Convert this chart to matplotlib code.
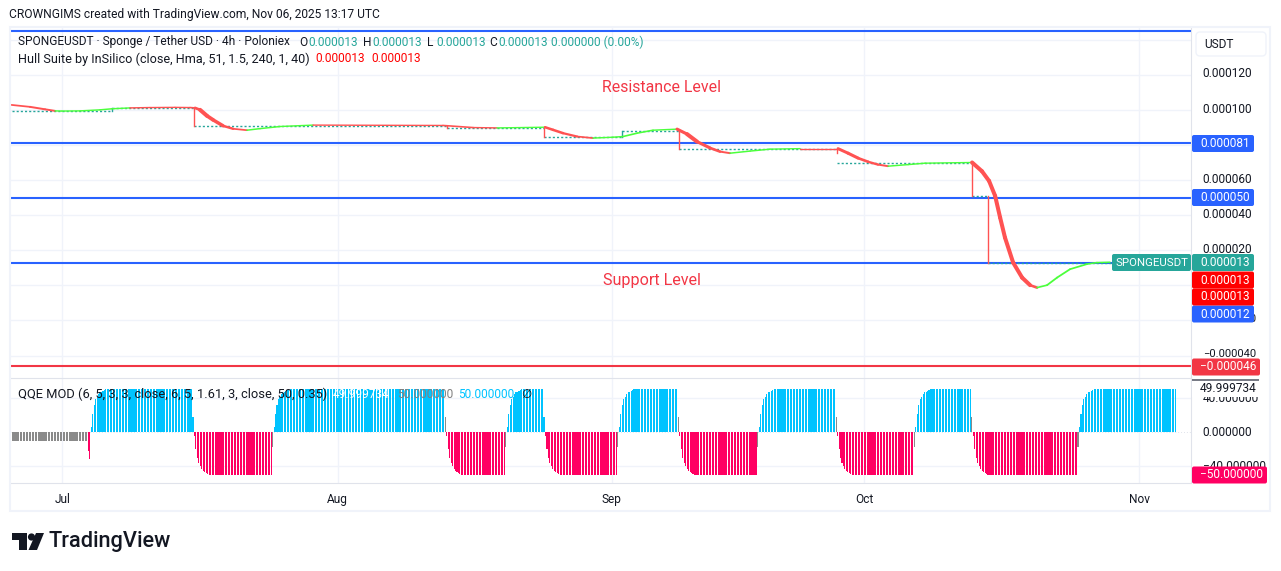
import numpy as np
import matplotlib
matplotlib.use("Agg")
import matplotlib.pyplot as plt
from matplotlib.collections import LineCollection
from matplotlib.patches import Circle, FancyBboxPatch, Polygon, Rectangle
from matplotlib.transforms import ScaledTranslation

# prices are in millionths of USDT, x axis is the 4h bar number
hull_bars = [-1, 11.5, 21.7, 28.5, 33.2, 45.4, 59, 67.1, 79.3, 92.9, 109.8, 120, 123.4, 126.8, 131.5, 135.6,
             142.4, 149.2, 158.6, 167.5, 181, 203.4, 291.5, 311.9, 328.1, 360.7, 366.1, 372.9, 382.4, 393.2,
             406.8, 413.6, 423.1, 433.9, 450.2, 456.9, 463.7, 472.5, 479.3, 486.1, 499.7, 513.2, 533.6, 559.3,
             566.1, 572.9, 579.7, 586.4, 593.2, 606.8, 618.3, 650.2, 656.9, 661.7, 665.8, 669.2, 672.5, 678,
             684.1, 689.5, 694.2, 701, 707.8, 716.6, 728.1, 734.9, 743.7]
hull_values = [102.8, 101.7, 100.3, 99.4, 99.3, 99.4, 100.0, 100.6, 101.1, 101.3, 101.4, 101.3, 101.1, 100.0, 96.6,
               94.3, 90.9, 89.2, 88.4, 89.3, 90.5, 91.3, 91.1, 89.9, 89.7, 90.1, 88.6, 86.7, 84.8, 83.9,
               84.4, 84.8, 86.7, 88.4, 89.0, 86.2, 81.9, 78.3, 76.2, 75.3, 76.5, 77.6, 77.9, 77.9,
               75.3, 72.5, 70.4, 68.8, 67.9, 68.8, 69.6, 70.0, 65.0, 59.5, 51.0, 38.6, 27.2, 13.0,
               4.4, 0.1, -1.3, 0.1, 4.4, 9.2, 12.1, 13.0, 13.2]
# the colour flips at these bars, starting red
hull_turns = [28.5, 79.3, 158.6, 203.4, 328.1, 360.7, 393.2, 450.2, 486.1, 533.6, 593.2, 650.2, 694.2]

step_edges = [-1, 67.1, 122.7, 294.2, 360, 412.9, 451.5, 558.6, 650.2, 661, 745]
step_levels = [99.4, 101.1, 90.6, 89.9, 84.8, 88.0, 77.6, 69.6, 50.8, 12.8]

blue_levels = [145, 81, 50, 12.8]
red_level = -46
price_ticks = [120, 100, 80, 60, 40, 20, 0, -20, -40]
grid_prices = [140, 120, 100, 80, 60, 40, 20, 0, -20, -40]

month_bars = [33.5, 220, 406, 577, 763.4]
month_labels = ["Jul", "Aug", "Sep", "Oct", "Nov"]

# QQE histogram pieces
qqe_start = [-10] * 51
qqe_first_dip = [-22, -31]
ramp_up = [6, 21, 31, 38, 41, 44, 46, 47, 48, 49, 49.5]
ramp_down = [-5, -20, -30, -36, -40, -43, -45, -46.5, -48, -49, -49.5]
plateau_counts = [58, 42, 105, 29, 14, 38, 29, 42, 41, 41, 27, 60, 55]
qqe_ticks = [40, 0, -40]

BLUE = "#2962ff"
TEAL = "#26a69a"
RED = "#f23645"
HULL_RED = "#ff5252"
HULL_GREEN = "#4cff3c"
QQE_BLUE = "#00c3ff"
QQE_PINK = "#ff0062"
QQE_GREY = "#8a8a8a"
GRID = "#f0f3fa"
LINE = "#e0e3eb"
INK = "#131722"

W, H = 1281, 571
plt.rcParams["font.family"] = ["Roboto", "DejaVu Sans"]
plt.rcParams["font.size"] = 8.6


def add_axes_px(fig, x0, y0, x1, y1):
    return fig.add_axes([x0 / W, 1 - y1 / H, (x1 - x0) / W, (y1 - y0) / H])


def price_text(v):
    return ("\u2212" if v < 0 else "") + "%.6f" % (abs(v) / 1e6)


def hull_colors():
    colors = []
    for b in hull_bars[:-1]:
        flips = sum(1 for t in hull_turns if b >= t)
        colors.append(HULL_GREEN if flips % 2 else HULL_RED)
    return colors


def qqe_series():
    values = list(qqe_start) + list(qqe_first_dip)
    colors = [QQE_GREY] * len(qqe_start) + [QQE_PINK] * len(qqe_first_dip)
    for k, n in enumerate(plateau_counts):
        if k % 2 == 0:
            values += ramp_up + [50] * n
            colors += [QQE_BLUE] * (len(ramp_up) + n)
            if k < len(plateau_counts) - 1:
                values.append(17)
                colors.append(QQE_BLUE if k in (0, 4) else QQE_GREY)
        else:
            values += ramp_down + [-50] * n
            colors += [QQE_PINK] * (len(ramp_down) + n)
            values.append(-17)
            colors.append(QQE_GREY)
    return values, colors


fig = plt.figure(figsize=(W / 100, H / 100), dpi=100, facecolor="white")
ax = add_axes_px(fig, 11, 27, 1191, 378)
ax_q = add_axes_px(fig, 11, 378, 1191, 483)
xlim = (-1.36, 798.6)

# main pane
ax.set_xlim(*xlim)
ax.set_ylim(-52.8, 147.2)
for p in grid_prices:
    ax.axhline(p, color=GRID, lw=1, zorder=0)
for b in month_bars:
    ax.axvline(b, color=GRID, lw=1, zorder=0)
for lev in blue_levels:
    ax.axhline(lev, color=BLUE, lw=1.5, zorder=2)
ax.axhline(red_level, color=RED, lw=1.5, zorder=2)

# stepped line of the hull suite
for k, lev in enumerate(step_levels):
    ax.plot([step_edges[k], step_edges[k + 1]], [lev, lev], color=TEAL, lw=1, ls=(0, (1.5, 1.5)), zorder=3)
    if k == 0:
        continue
    prev = step_levels[k - 1]
    if k == 7:
        # only a stub shows at this drop
        ax.plot([step_edges[k]] * 2, [75.3, 77.3], color=HULL_RED, lw=1, zorder=3)
    else:
        ax.plot([step_edges[k]] * 2, [prev, lev], color=HULL_RED if lev < prev else TEAL, lw=1, zorder=3)

pts = np.column_stack([hull_bars, hull_values])
segs = np.stack([pts[:-1], pts[1:]], axis=1)
slopes = np.abs(np.diff(hull_values) / np.diff(hull_bars))
seg_colors = hull_colors()
widths = [1.0 + min(1.9, 3 * s) if c == HULL_RED else 1.0 + min(0.3, s) for s, c in zip(slopes, seg_colors)]
ax.add_collection(LineCollection(segs, colors=seg_colors, linewidths=widths, zorder=4, capstyle="round"))

ax.yaxis.tick_right()
ax.set_yticks(price_ticks)
ax.set_yticklabels([price_text(p) for p in price_ticks], color=INK)
ax.tick_params(axis="y", length=0, pad=8.5)
ax.set_xticks([])
for s in ["top", "left", "bottom"]:
    ax.spines[s].set_visible(False)
ax.spines["right"].set_color(LINE)

# QQE pane
vals, cols = qqe_series()
ax_q.set_xlim(*xlim)
ax_q.set_ylim(-59.3, 62.8)
for p in [40, -40]:
    ax_q.axhline(p, color=GRID, lw=1, zorder=0)
ax_q.axhline(0, color=LINE, lw=0.7, ls=(0, (1, 2)), zorder=0)
for b in month_bars:
    ax_q.axvline(b, color=GRID, lw=1, zorder=0)
ax_q.bar(np.arange(len(vals)), vals, width=0.74, color=cols, linewidth=0, antialiased=False, zorder=2)
ax_q.yaxis.tick_right()
ax_q.set_yticks(qqe_ticks)
ax_q.set_yticklabels([price_text(t * 1e6) for t in qqe_ticks], color=INK)
ax_q.tick_params(axis="y", length=0, pad=8.5)
ax_q.set_xticks(month_bars)
ax_q.set_xticklabels(month_labels, color=INK)
ax_q.tick_params(axis="x", length=0, pad=7)
ax_q.spines["top"].set_color(LINE)
ax_q.spines["bottom"].set_color(LINE)
ax_q.spines["right"].set_color(LINE)
ax_q.spines["left"].set_visible(False)

# nudge the price labels up a little, negative ones run narrower
nudge = ScaledTranslation(0, 2.3 / 100, fig.dpi_scale_trans)
for lab in ax.get_yticklabels():
    lab.set_transform(lab.get_transform() + nudge)
    if lab.get_text().startswith("\u2212"):
        lab.set_fontsize(8.1)
nudge_q = ScaledTranslation(0, 1.0 / 100, fig.dpi_scale_trans)
for lab in ax_q.get_yticklabels():
    lab.set_transform(lab.get_transform() + nudge_q)

# pixel overlay for the frame, legends and price tags
over = fig.add_axes([0, 0, 1, 1], zorder=10)
over.set_xlim(0, W)
over.set_ylim(H, 0)
over.axis("off")
over.patch.set_alpha(0)

over.add_patch(Rectangle((10, 27), 1260, 484, fill=False, ec=GRID, lw=1.5))
over.add_patch(FancyBboxPatch((1196, 32), 70, 24, boxstyle="round,pad=0,rounding_size=4", fc="white", ec=GRID, lw=1))
over.text(1204, 44, "USDT", color=INK, va="center")


def px_text(x, y, s, color=INK, **kw):
    over.text(x, y, s, color=color, va="center", ha=kw.pop("ha", "left"), **kw)


px_text(9, 14.5, "CROWNGIMS created with TradingView.com, Nov 06, 2025 13:17 UTC", fontsize=8.65)
px_text(18, 42, "SPONGEUSDT \u00b7 Sponge / Tether USD \u00b7 4h \u00b7 Poloniex")
for x, s in [(299, "O"), (363, "H"), (427, "L"), (489, "C")]:
    px_text(x, 42, s)
for x in [308, 372, 436, 498]:
    px_text(x, 42, "0.000013", TEAL)
px_text(551, 42, "0.000000 (0.00%)", TEAL)
px_text(18, 59, "Hull Suite by InSilico (close, Hma, 51, 1.5, 240, 1, 40)", fontsize=9.1)
px_text(315, 59, "0.000013", "#ff0000")
px_text(371, 59, "0.000013", "#ff0000")
px_text(18, 394, "QQE MOD (6, 5, 3, 3, close, 6, 5, 1.61, 3, close, 50, 0.35)", fontsize=9.3)
px_text(333, 394, "49.999734", "white")
px_text(397, 394, "50.000000", "#808080")
px_text(458, 394, "50.000000", QQE_BLUE)
px_text(521, 394, "\u2205")

px_text(661, 87, "Resistance Level", RED, ha="center", fontsize=11.4)
px_text(652, 280, "Support Level", RED, ha="center", fontsize=11.6)


def tag(y, s, color, x1=1254, x0=1192):
    over.add_patch(FancyBboxPatch((x0, y - 8.5), x1 - x0, 17, boxstyle="round,pad=0,rounding_size=2", fc=color, ec="none"))
    over.text(x0 + 8, y, s, color="white", va="center")


tag(143.5, "0.000081", BLUE)
tag(197.5, "0.000050", BLUE)
tag(314, "0.000012", BLUE)
tag(280, "0.000013", "#ff0000")
tag(297, "0.000013", "#ff0000")
tag(262.5, "0.000013", TEAL)
tag(262.5, "SPONGEUSDT", TEAL, x1=1191, x0=1112)
over.texts[-1].set_x(1116)
over.texts[-1].set_fontsize(8.2)
tag(367, "\u22120.000046", RED, x1=1260)
tag(475, "\u221250.000000", QQE_PINK, x1=1267)

over.add_patch(Rectangle((1192, 379), 67, 1.5, fc="#787b86", ec="none"))
over.add_patch(Rectangle((1192, 381), 75, 15.5, fc="white", ec="none"))
over.text(1200, 389, "49.999734", color=INK, va="center")

# TradingView logo
over.add_patch(Polygon([(12, 533), (27, 533), (27, 550), (19, 550), (19, 540), (12, 540)], fc=INK, ec="none"))
over.add_patch(Circle((31.5, 537), 3.6, fc=INK, ec="none"))
over.add_patch(Polygon([(36, 533), (44, 533), (37, 550), (28.5, 550)], fc=INK, ec="none"))
over.text(48.5, 542, "TradingView", color=INK, va="center", fontsize=15.7, fontweight="medium")

fig.savefig("out.png", dpi=100)
